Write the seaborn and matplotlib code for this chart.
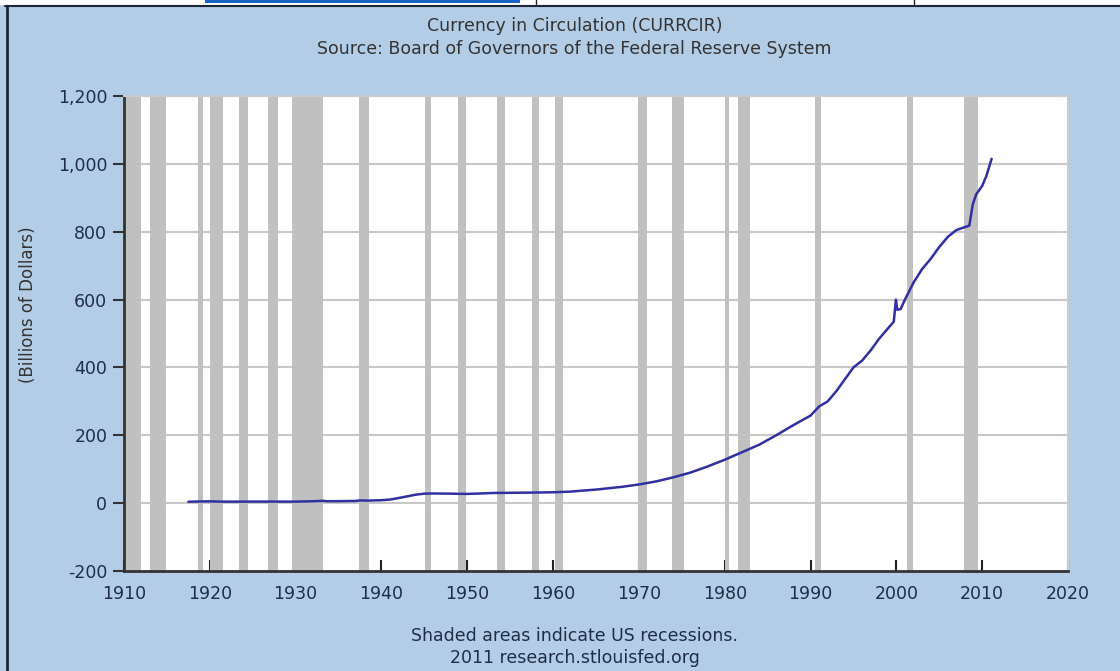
import pandas as pd
import seaborn as sns
import matplotlib.pyplot as plt
from matplotlib.patches import Rectangle
from matplotlib.lines import Line2D

# Currency in circulation, billions of dollars
years = [1917.5, 1918, 1919, 1920, 1921, 1922, 1925, 1928, 1930, 1931, 1932,
         1933.2, 1933.5, 1935, 1937, 1937.5, 1938.5, 1940, 1941, 1942, 1943,
         1944, 1945, 1946, 1948, 1949, 1950, 1951, 1953, 1955, 1957, 1960,
         1962, 1965, 1968, 1970, 1972, 1974, 1976, 1978, 1980, 1982, 1984,
         1986, 1988, 1990, 1991, 1992, 1993, 1994, 1995, 1996, 1997, 1998,
         1999.7, 1999.95, 2000.1, 2000.5, 2001, 2002, 2003, 2004, 2005, 2006,
         2007, 2008.5, 2008.9, 2009.3, 2010, 2010.5, 2011.1]
currency = [4.0, 4.5, 5.0, 5.3, 4.6, 4.4, 4.6, 4.6, 4.5, 5.0, 5.6,
            6.8, 5.8, 5.8, 6.5, 8.0, 7.5, 8.7, 10.5, 15, 20,
            25, 28, 28.5, 28, 27.5, 27.2, 28, 30, 30.5, 31, 32,
            34, 40, 48, 55, 64, 76, 90, 108, 128, 150, 172,
            200, 230, 258, 285, 300, 330, 365, 400, 420, 450, 485,
            535, 600, 570, 572, 600, 650, 690, 720, 755, 785,
            805, 818, 880, 910, 935, 965, 1015]

# NBER recessions (start, end)
rec_start = [1910.0, 1913.0, 1918.6, 1920.0, 1923.4, 1926.8, 1929.6, 1937.4,
             1945.1, 1948.9, 1953.5, 1957.6, 1960.2, 1969.9, 1973.9, 1980.0,
             1981.5, 1990.5, 2001.2, 2007.9]
rec_end = [1912.0, 1914.9, 1919.2, 1921.5, 1924.5, 1927.9, 1933.2, 1938.5,
           1945.8, 1949.8, 1954.4, 1958.3, 1961.1, 1970.9, 1975.2, 1980.5,
           1982.9, 1991.2, 2001.9, 2009.5]

x_ticks = list(range(1910, 2021, 10))
y_ticks = list(range(-200, 1201, 200))

df = pd.DataFrame({"year": years, "currency": currency})

sns.set_theme(style="white")
plt.rcParams['font.family'] = ['DejaVu Sans']

panel = '#b3cde6'
txt = '#1f2d48'

fig = plt.figure(figsize=(11.2, 6.71), dpi=100, facecolor=panel)
ax = fig.add_axes([124 / 1120, 100 / 671, 944 / 1120, 475 / 671])
ax.set_facecolor('white')

for s, e in zip(rec_start, rec_end):
    ax.axvspan(s, e, color='#c0c0c0', lw=0, zorder=1)

for yv in y_ticks[1:]:
    ax.axhline(yv, color='#c8c8c8', lw=1.5, zorder=0.5)

sns.lineplot(data=df, x="year", y="currency", ax=ax, color='#3030a0', lw=1.8, zorder=3)

ax.set_xlim(1910, 2020)
ax.set_ylim(-200, 1200)
ax.set_xticks(x_ticks)
ax.set_yticks(y_ticks)
ax.set_yticklabels([f"{v:,}" for v in y_ticks])
ax.tick_params(axis='x', direction='in', length=8, width=1.5, color='#222',
               labelsize=12.5, labelcolor=txt, pad=10, bottom=True)
ax.tick_params(axis='y', direction='out', length=8, width=1.5, color='#333',
               labelsize=12.5, labelcolor=txt, pad=4, left=True)
ax.set_xlabel("")
ax.set_ylabel("(Billions of Dollars)", fontsize=12, color='#333', labelpad=0)
ax.yaxis.set_label_coords(-87 / 944, 0.56)

for side in ['left', 'bottom']:
    ax.spines[side].set_color('#333')
    ax.spines[side].set_linewidth(2)
for side in ['top', 'right']:
    ax.spines[side].set_color('#c8ccd2')
    ax.spines[side].set_linewidth(1.5)

fig.text(0.513, 1 - 26 / 671, "Currency in Circulation (CURRCIR)", ha='center', va='center',
         fontsize=12.5, color='#333')
fig.text(0.513, 1 - 49 / 671, "Source: Board of Governors of the Federal Reserve System",
         ha='center', va='center', fontsize=12.5, color='#333')
fig.text(0.513, 1 - 636 / 671, "Shaded areas indicate US recessions.", ha='center',
         va='center', fontsize=12.5, color=txt)
fig.text(0.513, 1 - 658 / 671, "2011 research.stlouisfed.org", ha='center', va='center',
         fontsize=12.5, color=txt)

# page strip and border around the panel
fig.patches.append(Rectangle((0, 1 - 5 / 671), 1, 5 / 671, transform=fig.transFigure,
                             facecolor='white', edgecolor='none', zorder=0))
fig.patches.append(Rectangle((205 / 1120, 1 - 3 / 671), 315 / 1120, 3 / 671,
                             transform=fig.transFigure, facecolor='#1565c8',
                             edgecolor='none', zorder=1))
for px in [536, 914]:
    fig.lines.append(Line2D([px / 1120, px / 1120], [1 - 4 / 671, 1],
                            transform=fig.transFigure, color='#222', lw=1))
fig.lines.append(Line2D([5 / 1120, 1], [1 - 5.5 / 671, 1 - 5.5 / 671],
                        transform=fig.transFigure, color='#1a2538', lw=1.5))
fig.lines.append(Line2D([7 / 1120, 7 / 1120], [0, 1 - 5.5 / 671],
                        transform=fig.transFigure, color='#1a2538', lw=2))

fig.savefig("out.png", dpi=100, facecolor=panel)
